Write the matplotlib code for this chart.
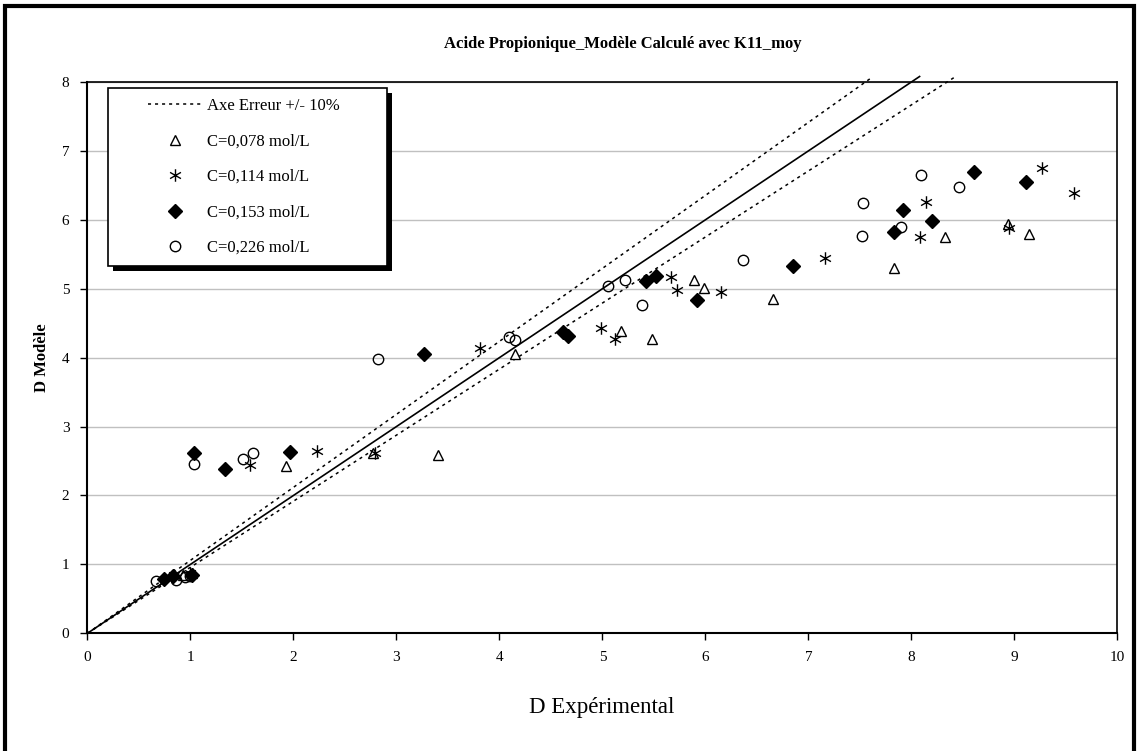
import numpy as np
import matplotlib
matplotlib.use("Agg")
import matplotlib.pyplot as plt
from matplotlib.path import Path
from matplotlib.patches import Rectangle
from matplotlib.lines import Line2D
from matplotlib.legend_handler import HandlerLine2D

# --- DONNEES ---
# C=0,078 mol/L
x_078 = [0.93, 1.02, 1.93, 2.77, 3.40, 4.15, 5.18, 5.48, 5.89, 5.99, 6.66, 7.83, 8.33, 8.94, 9.14]
y_078 = [0.85, 0.87, 2.43, 2.62, 2.59, 4.06, 4.38, 4.27, 5.12, 5.01, 4.85, 5.30, 5.75, 5.94, 5.80]
# C=0,114 mol/L
x_114 = [0.84, 1.00, 1.58, 2.23, 2.79, 3.81, 4.99, 5.12, 5.67, 5.72, 6.15, 7.16, 8.08, 8.14, 8.95, 9.27, 9.58]
y_114 = [0.85, 0.87, 2.44, 2.65, 2.62, 4.14, 4.43, 4.27, 5.17, 4.98, 4.95, 5.45, 5.75, 6.26, 5.88, 6.75, 6.39]
# C=0,153 mol/L
x_153 = [0.74, 0.83, 1.02, 1.03, 1.34, 1.97, 3.27, 4.62, 4.67, 5.42, 5.52, 5.92, 6.85, 7.83, 7.92, 8.20, 8.61, 9.11]
y_153 = [0.79, 0.83, 0.84, 2.62, 2.39, 2.63, 4.05, 4.37, 4.32, 5.11, 5.19, 4.84, 5.33, 5.82, 6.14, 5.98, 6.69, 6.55]
# C=0,226 mol/L
x_226 = [0.67, 0.86, 0.95, 1.00, 1.03, 1.51, 1.61, 2.82, 4.09, 4.15, 5.05, 5.22, 5.38, 6.37, 7.52, 7.53, 7.90, 8.09, 8.46]
y_226 = [0.76, 0.78, 0.82, 0.83, 2.45, 2.53, 2.61, 3.98, 4.30, 4.26, 5.04, 5.12, 4.77, 5.41, 5.76, 6.24, 5.90, 6.65, 6.47]

# droites y = x et axes d'erreur
diag_x = [0, 8.08]
diag_y = [0, 8.08]
err_haut_x = [0, 7.62]
err_haut_y = [0, 8.07]
err_bas_x = [0, 8.42]
err_bas_y = [0, 8.07]

series = [
    (x_078, y_078, "C=0,078 mol/L"),
    (x_114, y_114, "C=0,114 mol/L"),
    (x_153, y_153, "C=0,153 mol/L"),
    (x_226, y_226, "C=0,226 mol/L"),
]

plt.rcParams["font.family"] = ["Liberation Serif", "DejaVu Serif"]

# marqueur étoile type Excel (X + trait vertical)
star = Path([(0, -1), (0, 1), (-0.87, -0.5), (0.87, 0.5), (-0.87, 0.5), (0.87, -0.5)],
            [Path.MOVETO, Path.LINETO, Path.MOVETO, Path.LINETO, Path.MOVETO, Path.LINETO])

styles = [
    dict(marker="^", ms=6.5, mfc="white", mec="black", mew=1.0),
    dict(marker=star, ms=9, mfc="none", mec="black", mew=1.0),
    dict(marker="D", ms=7.5, mfc="black", mec="black", mew=1.0),
    dict(marker="o", ms=7.5, mfc="none", mec="black", mew=1.0),
]

fig = plt.figure(figsize=(11.37, 7.51), dpi=100)
ax = fig.add_axes([0.0769, 0.1567, 0.9058, 0.7341])

ax.plot(diag_x, diag_y, color="black", lw=1.2, clip_on=False, zorder=2)
ax.plot(err_haut_x, err_haut_y, color="black", lw=1.1, ls=(0, (2, 2.6)),
        clip_on=False, zorder=2, label="Axe Erreur +/- 10%")
ax.plot(err_bas_x, err_bas_y, color="black", lw=1.1, ls=(0, (2, 2.6)), clip_on=False, zorder=2)

for (xs, ys, lab), st in zip(series, styles):
    ax.plot(xs, ys, ls="none", label=lab, zorder=3, **st)

ax.set_xlim(0, 10)
ax.set_ylim(0, 8)
ax.set_xticks(range(0, 11))
ax.set_yticks(range(0, 9))
ax.yaxis.grid(True, color="#c0c0c0", lw=1.0)
ax.set_axisbelow(True)
ax.tick_params(labelsize=11, length=5, width=1, direction="out", pad=8)
ax.spines["left"].set_linewidth(1.5)
ax.spines["bottom"].set_linewidth(1.5)
ax.spines["top"].set_linewidth(1.2)
ax.spines["right"].set_linewidth(1.2)

fig.text(0.548, 0.941, "Acide Propionique_Modèle Calculé avec K11_moy",
         ha="center", va="center", fontsize=12, fontweight="bold")
fig.text(0.5295, 0.058, "D Expérimental", ha="center", va="center", fontsize=16.5)
fig.text(0.037, 0.524, "D Modèle", ha="center", va="center", rotation=90,
         fontsize=12, fontweight="bold")

leg = ax.legend(loc="upper left", bbox_to_anchor=(0.02, 0.989, 0.271, 0.0), mode="expand",
                fontsize=12, frameon=True, fancybox=False, framealpha=1, edgecolor="black",
                labelspacing=1.17, handlelength=5.0, handletextpad=0.36, borderpad=0.6,
                borderaxespad=0, handler_map={Line2D: HandlerLine2D(xpad=1.8)})
leg.get_frame().set_linewidth(1.2)
leg.set_zorder(10)

# ombre noire décalée sous la légende
fig.canvas.draw()
bb = leg.get_window_extent()
ombre = Rectangle((bb.x0 + 5, bb.y0 - 5), bb.width, bb.height, transform=None,
                  facecolor="black", edgecolor="none", zorder=9)
ax.add_artist(ombre)
ombre.set_clip_on(False)

# cadre noir autour de la figure
fig.patches.append(Rectangle((0.004, -0.02), 0.993, 1.012, transform=fig.transFigure,
                             fill=False, edgecolor="black", lw=3))

fig.savefig("out.png", dpi=100)
